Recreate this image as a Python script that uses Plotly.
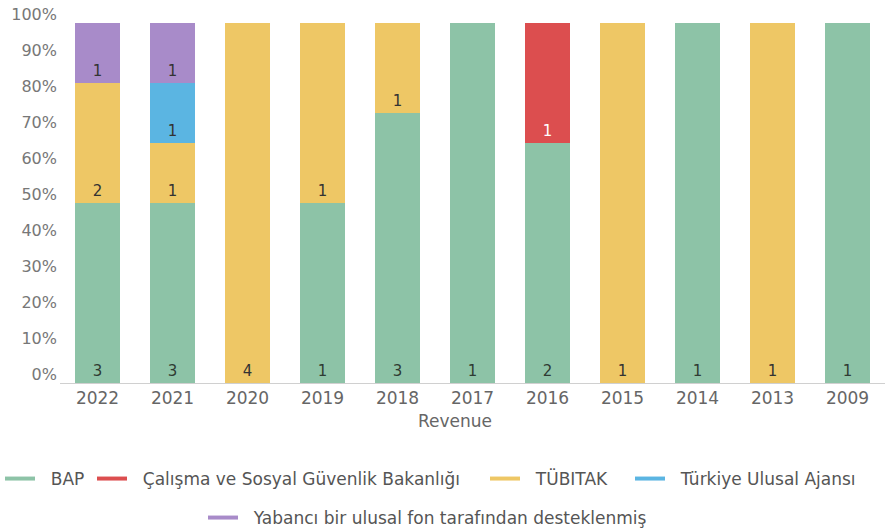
import plotly.graph_objects as go

years = ["2022", "2021", "2020", "2019", "2018", "2017", "2016", "2015", "2014", "2013", "2009"]
bap = [3, 3, 0, 1, 3, 1, 2, 0, 1, 0, 1]
calisma = [0, 0, 0, 0, 0, 0, 1, 0, 0, 0, 0]
tubitak = [2, 1, 4, 1, 1, 0, 0, 1, 0, 1, 0]
ulusal_ajans = [0, 1, 0, 0, 0, 0, 0, 0, 0, 0, 0]
yabanci = [1, 1, 0, 0, 0, 0, 0, 0, 0, 0, 0]

series_names = ["BAP", "Çalışma ve Sosyal Güvenlik Bakanlığı", "TÜBITAK",
                "Türkiye Ulusal Ajansı", "Yabancı bir ulusal fon tarafından desteklenmiş"]
series_values = [bap, calisma, tubitak, ulusal_ajans, yabanci]
series_colors = ["#8DC3A7", "#DC4E4F", "#EEC765", "#5BB5E2", "#A88BC9"]
text_colors = ["#2f3b33", "#ffffff", "#333333", "#333333", "#333333"]

# legend entry placement (pixels: symbol left edge, row top)
legend_pos = [(0, 461), (97, 461), (490, 461), (635, 461), (208, 500)]

FONT = "DejaVu Sans"
PAD = "\u00a0\u00a0"
W, H = 890, 529

fig = go.Figure()
legend_layout = {}
for i, (name, vals, color, tcolor) in enumerate(zip(series_names, series_values, series_colors, text_colors)):
    fig.add_trace(go.Bar(
        x=years, y=vals, name=name, marker_color=color, marker_line_width=0,
        text=[str(v) if v else "" for v in vals],
        textposition="inside", insidetextanchor="start", textangle=0,
        textfont=dict(family=FONT, size=15, color=tcolor),
        constraintext="none",
        showlegend=False, hoverinfo="skip",
    ))
    lg = "legend" if i == 0 else f"legend{i + 1}"
    fig.add_trace(go.Scatter(
        x=[None], y=[None], mode="lines", name=PAD + name,
        line=dict(color=color, width=4), legend=lg, hoverinfo="skip",
    ))
    px, py = legend_pos[i]
    legend_layout[lg] = dict(
        orientation="h", xref="container", yref="container",
        x=(px - 5) / W, xanchor="left", y=(H - py) / H, yanchor="top",
        font=dict(size=17, color="#555555"), itemwidth=30,
        bgcolor="rgba(0,0,0,0)",
    )

fig.update_layout(
    width=W, height=H,
    margin=dict(l=60, r=5, t=17, b=146),
    barmode="stack", barnorm="fraction", bargap=0.4,
    plot_bgcolor="white", paper_bgcolor="white",
    font=dict(family=FONT, color="#666666"),
    xaxis=dict(
        type="category", showgrid=False, showline=True, linecolor="#d0d0d0", linewidth=1,
        ticks="", tickfont=dict(size=17, color="#666666"),
    ),
    yaxis=dict(
        range=[0, 1], tickformat=".0%", dtick=0.1, showgrid=False, zeroline=False,
        ticks="", tickfont=dict(size=16, color="#777777"), ticklabelshift=-9,
        ticklabelstandoff=2, ticklabeloverflow="allow",
    ),
    annotations=[dict(
        text="Revenue", xref="paper", yref="paper", x=(455 - 60) / 825, y=(383 - 422) / 366,
        xanchor="center", yanchor="middle", showarrow=False,
        font=dict(family=FONT, size=17, color="#666666"),
    )],
    **legend_layout,
)

fig.write_html("out.html", config={"displayModeBar": False},
               post_script="document.body.style.margin='0';")
